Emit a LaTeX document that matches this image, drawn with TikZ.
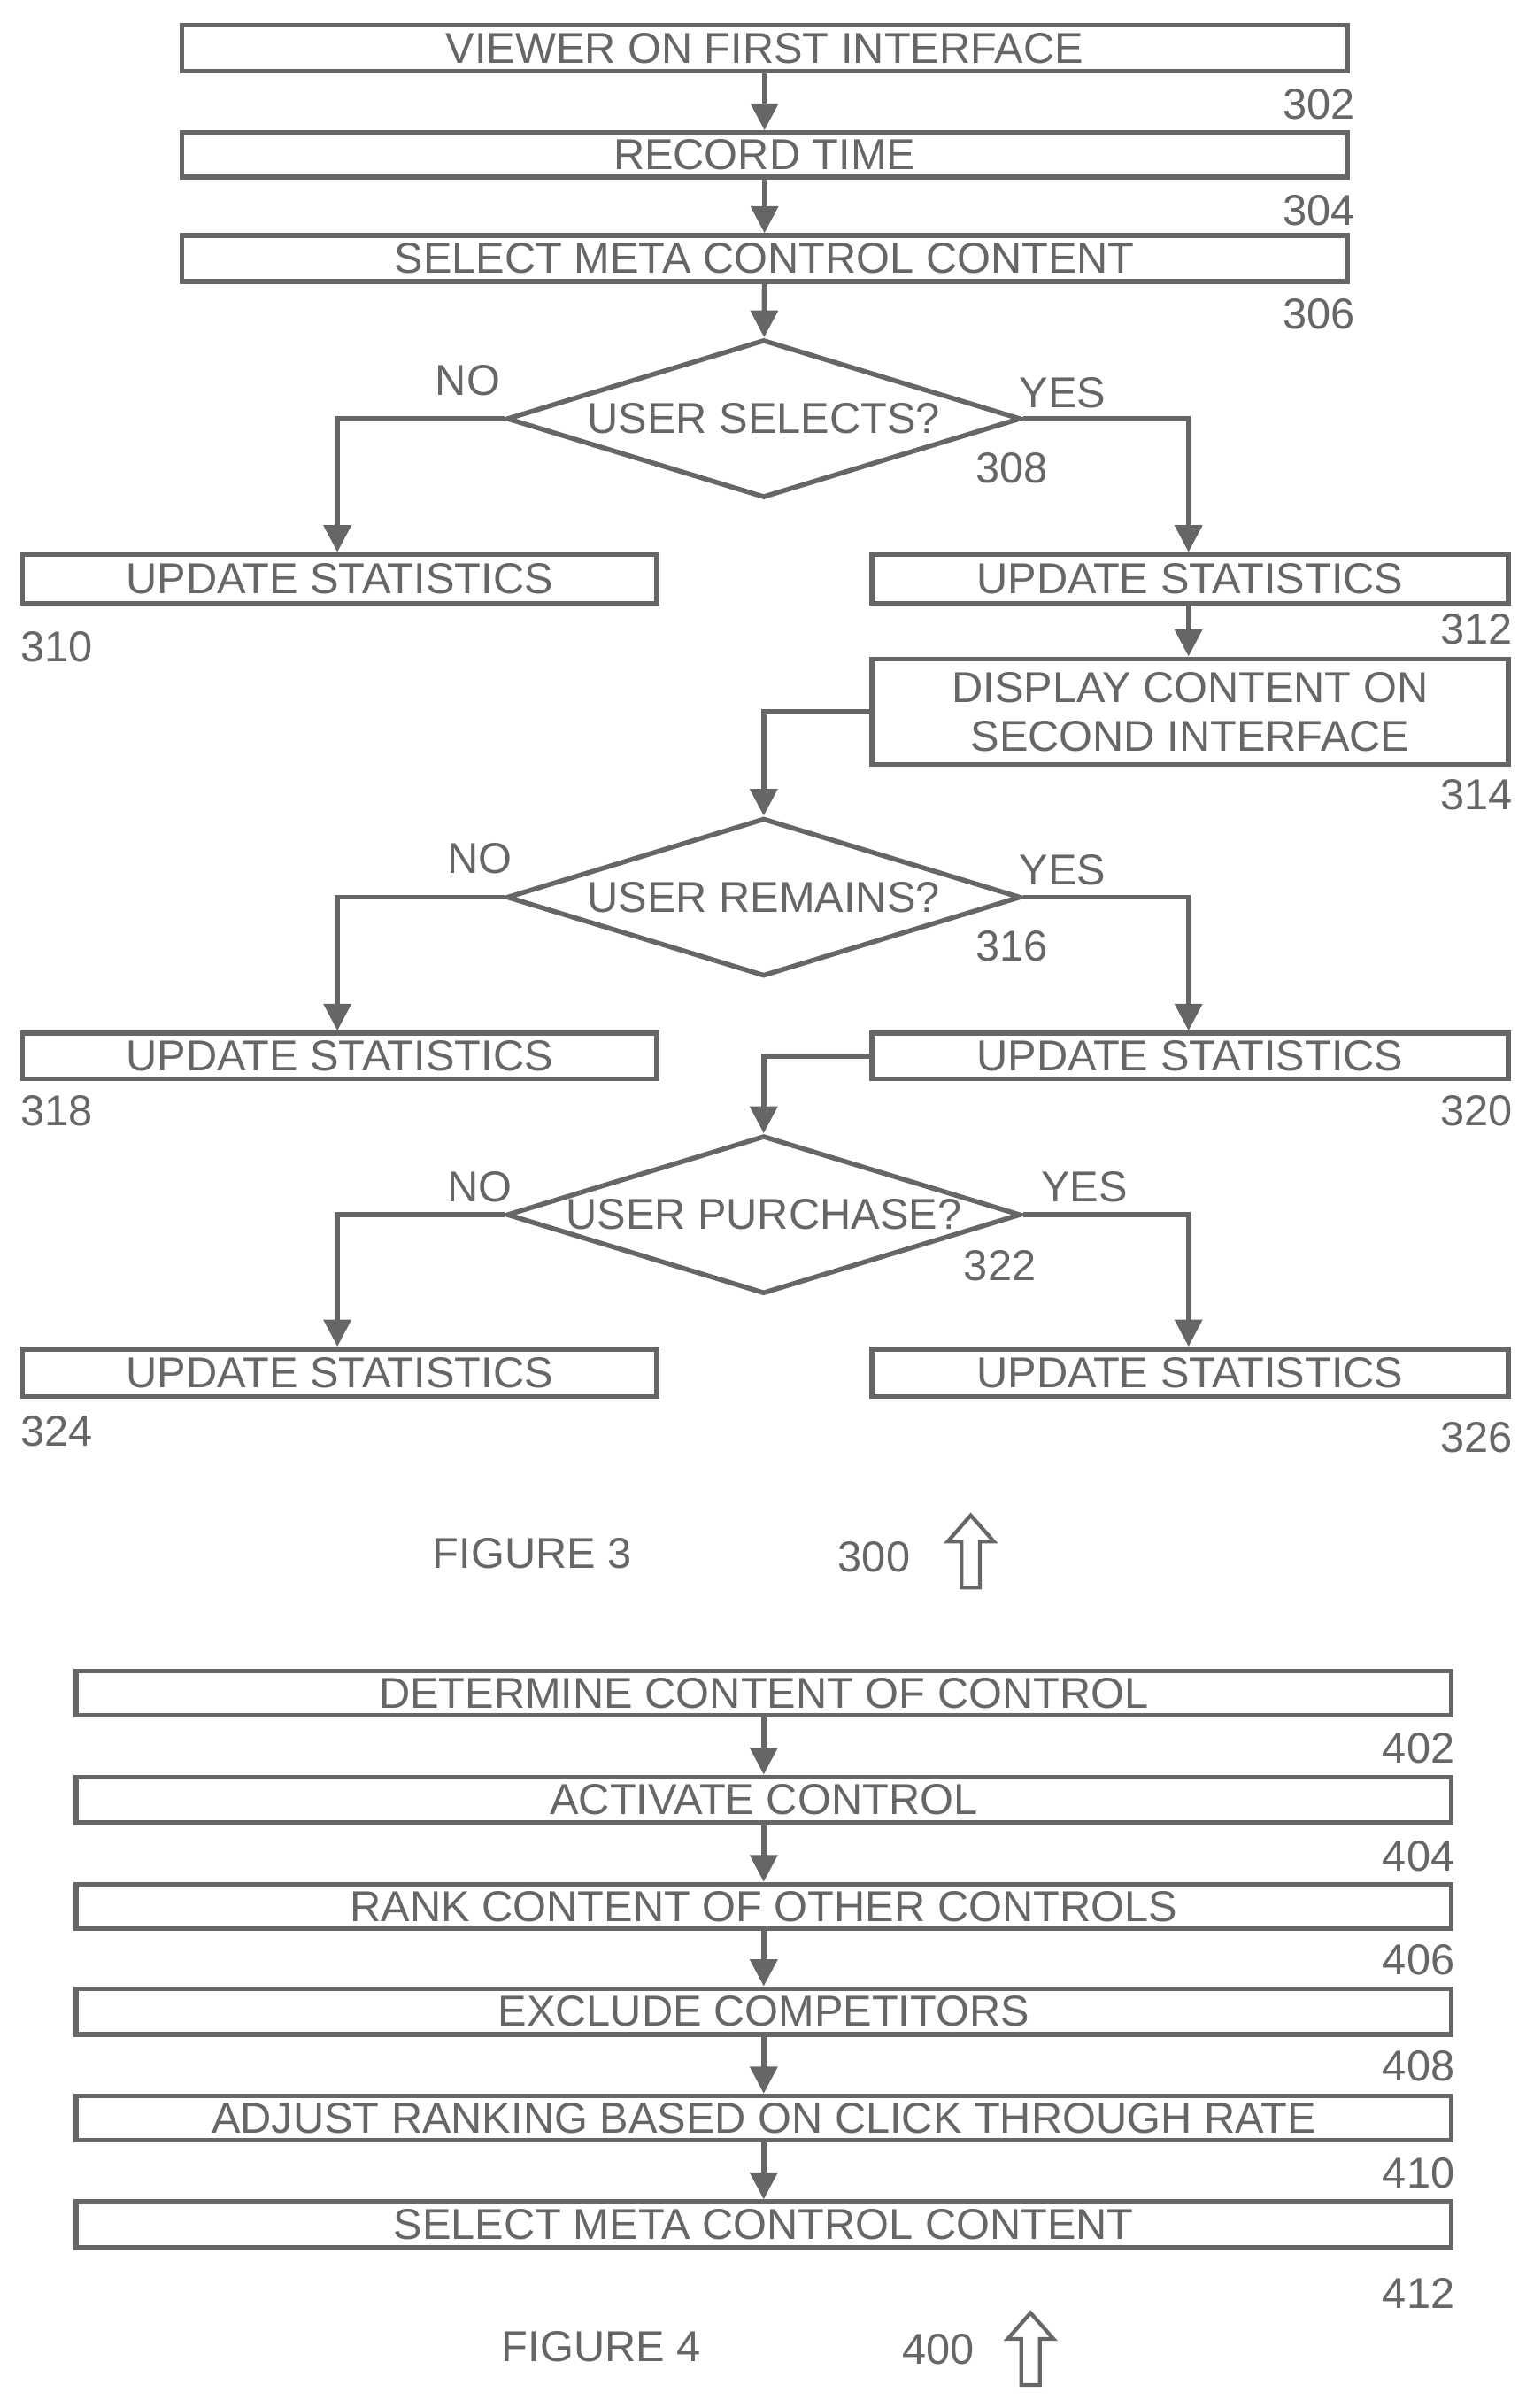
\documentclass[tikz,border=0pt]{standalone}
\usepackage{fontspec}
\setmainfont{Liberation Sans}
\usetikzlibrary{arrows.meta,shapes.geometric}
\begin{document}
\begin{tikzpicture}[x=0.01cm,y=-0.01cm,
  ln/.style={draw=black!60,line width=0.9pt},
  box/.style={ln,rectangle,inner sep=0pt,font=\fontsize{8}{9}\selectfont,text=black!60},
  dia/.style={ln,diamond,aspect=3.2,inner sep=0pt,minimum width=3.35cm,minimum height=1.03cm,font=\fontsize{8}{9}\selectfont,text=black!60},
  lab/.style={font=\fontsize{8}{9}\selectfont,text=black!60,inner sep=0pt},
  arr/.style={ln,-{Triangle[length=5pt,width=5pt]}}]
\useasboundingbox (0,0) rectangle (1000,1570);
\newcommand{\bx}[6]{\node[box,minimum width=#3*0.01cm-0.9pt,minimum height=#4*0.01cm-0.9pt,align=center] (#1) at (#2) {#5};}
% Figure 3
\bx{b302}{498.5,31.5}{763}{33}{VIEWER ON FIRST INTERFACE}{}
\bx{b304}{498.5,101}{763}{32}{RECORD TIME}{}
\bx{b306}{498.5,168.5}{763}{33}{SELECT META CONTROL CONTENT}{}
\node[dia] (d308) at (498,273) {USER SELECTS?};
\bx{b310}{221.5,377.5}{417}{35}{UPDATE STATISTICS}{}
\bx{b312}{776,377.5}{418}{35}{UPDATE STATISTICS}{}
\bx{b314}{776,464}{418}{72}{DISPLAY CONTENT ON\\SECOND INTERFACE}{}
\node[dia] (d316) at (498,585) {USER REMAINS?};
\bx{b318}{221.5,688.5}{417}{33}{UPDATE STATISTICS}{}
\bx{b320}{776,688.5}{418}{33}{UPDATE STATISTICS}{}
\node[dia] (d322) at (498,792) {USER PURCHASE?};
\bx{b324}{221.5,895}{417}{34}{UPDATE STATISTICS}{}
\bx{b326}{776,895}{418}{34}{UPDATE STATISTICS}{}
\node[lab] at (860,68) {302};
\node[lab] at (860,137) {304};
\node[lab] at (860,205) {306};
\node[lab] at (305,248) {NO};
\node[lab] at (693,256) {YES};
\node[lab] at (660,305) {308};
\node[lab] at (37,422) {310};
\node[lab] at (963,410) {312};
\node[lab] at (963,518) {314};
\node[lab] at (313,560) {NO};
\node[lab] at (693,567) {YES};
\node[lab] at (660,617) {316};
\node[lab] at (37,724) {318};
\node[lab] at (963,724) {320};
\node[lab] at (313,774) {NO};
\node[lab] at (707,774) {YES};
\node[lab] at (652,825) {322};
\node[lab] at (37,933) {324};
\node[lab] at (963,937) {326};
\draw[arr] (b302) -- (b304);
\draw[arr] (b304) -- (b306);
\draw[arr] (b306) -- (d308);
\draw[arr] (d308.west) -| (b310.north -| 220,0);
\draw[arr] (d308.east) -| (b312.north -| 775,0);
\draw[arr] (b312.south -| 775,0) -- (b314.north -| 775,0);
\draw[arr] (b314.west) -| (d316.north);
\draw[arr] (d316.west) -| (b318.north -| 220,0);
\draw[arr] (d316.east) -| (b320.north -| 775,0);
\draw[arr] (b320.west) -| (d322.north);
\draw[arr] (d322.west) -| (b324.north -| 220,0);
\draw[arr] (d322.east) -| (b326.north -| 775,0);
\node[lab] at (347,1013) {FIGURE 3};
\node[lab] at (570,1015) {300};
\draw[ln,line width=0.7pt] (627,1035) -- (627,1005) -- (618,1005) -- (633,988) -- (648,1005) -- (639,1005) -- (639,1035) -- cycle;
% Figure 4
\bx{b402}{498,1104}{900}{32}{DETERMINE CONTENT OF CONTROL}{}
\bx{b404}{498,1173.5}{900}{33}{ACTIVATE CONTROL}{}
\bx{b406}{498,1243}{900}{32}{RANK CONTENT OF OTHER CONTROLS}{}
\bx{b408}{498,1311.5}{900}{33}{EXCLUDE COMPETITORS}{}
\bx{b410}{498,1381}{900}{32}{ADJUST RANKING BASED ON CLICK THROUGH RATE}{}
\bx{b412}{498,1450.5}{900}{33}{SELECT META CONTROL CONTENT}{}
\draw[arr] (b402) -- (b404);
\draw[arr] (b404) -- (b406);
\draw[arr] (b406) -- (b408);
\draw[arr] (b408) -- (b410);
\draw[arr] (b410) -- (b412);
\node[lab] at (925,1140) {402};
\node[lab] at (925,1210) {404};
\node[lab] at (925,1278) {406};
\node[lab] at (925,1347) {408};
\node[lab] at (925,1417) {410};
\node[lab] at (925,1495) {412};
\node[lab] at (392,1530) {FIGURE 4};
\node[lab] at (612,1532) {400};
\draw[ln,line width=0.7pt] (666,1555) -- (666,1525) -- (657,1525) -- (672,1508) -- (687,1525) -- (678,1525) -- (678,1555) -- cycle;
\end{tikzpicture}
\end{document}
